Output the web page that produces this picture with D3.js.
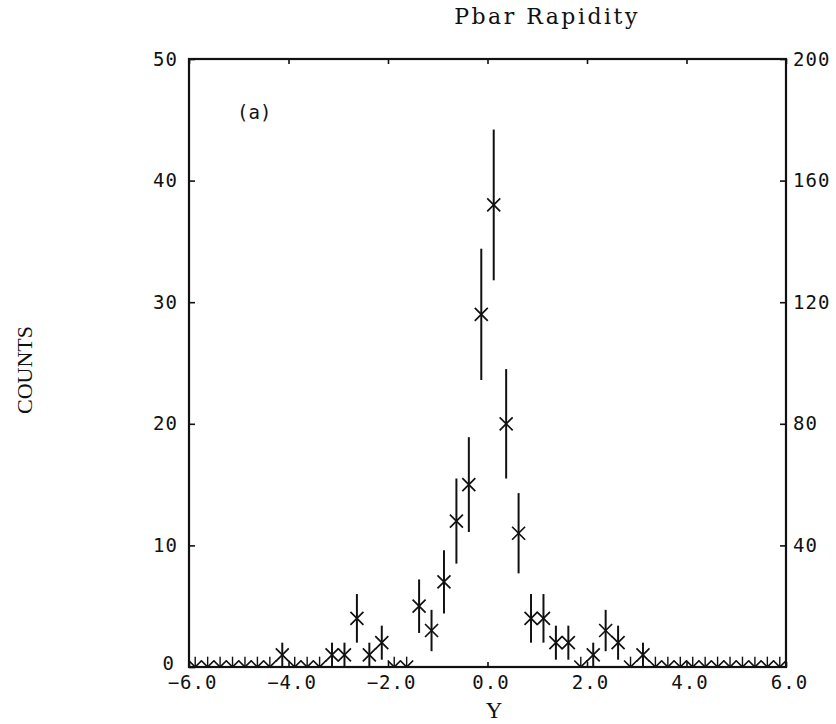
<!DOCTYPE html>
<html>
<head>
<meta charset="utf-8">
<script src="https://cdn.jsdelivr.net/npm/d3@7"></script>
<style>
  body { margin: 0; background: #fff; }
  .tick text { font-family: "DejaVu Sans Mono", monospace; font-size: 19px; letter-spacing: 1px; fill: #111; }
  .tick line { stroke: #111; stroke-width: 1.6px; }
</style>
</head>
<body>
<div id="chart"></div>
<script>
// bin centres of the rapidity histogram (0.25 wide bins)
const binCenters = [
  -5.875, -5.625, -5.375, -5.125, -4.875, -4.625, -4.375, -4.125,
  -3.875, -3.625, -3.375, -3.125, -2.875, -2.625, -2.375, -2.125,
  -1.875, -1.625, -1.375, -1.125, -0.875, -0.625, -0.375, -0.125,
   0.125,  0.375,  0.625,  0.875,  1.125,  1.375,  1.625,  1.875,
   2.125,  2.375,  2.625,  2.875,  3.125,  3.375,  3.625,  3.875,
   4.125,  4.375,  4.625,  4.875,  5.125,  5.375,  5.625,  5.875
]
const counts = [
  0, 0, 0, 0, 0, 0, 0, 1,
  0, 0, 0, 1, 1, 4, 1, 2,
  0, 0, 5, 3, 7, 12, 15, 29,
  38, 20, 11, 4, 4, 2, 2, 0,
  1, 3, 2, 0, 1, 0, 0, 0,
  0, 0, 0, 0, 0, 0, 0, 0
]
// error bar half lengths
const errors = [
  0.85, 0.85, 0.85, 0.85, 0.85, 0.85, 0.85, 1.0,
  0.85, 0.85, 0.85, 1.0, 1.0, 2.0, 1.0, 1.4,
  0.85, 0.85, 2.2, 1.7, 2.6, 3.5, 3.9, 5.4,
  6.2, 4.5, 3.3, 2.0, 2.0, 1.4, 1.4, 0.85,
  1.0, 1.7, 1.4, 0.85, 1.0, 0.85, 0.85, 0.85,
  0.85, 0.85, 0.85, 0.85, 0.85, 0.85, 0.85, 0.85
]
const xTicks = [-6, -4, -2, 0, 2, 4, 6]
const yTicksLeft = [0, 10, 20, 30, 40, 50]
const yTicksRight = [40, 80, 120, 160, 200]

const W = 836, H = 724
const MARGIN = { LEFT: 189, RIGHT: 50, TOP: 59, BOTTOM: 57 }

const svg = d3.select("#chart").append("svg")
  .attr("width", W)
  .attr("height", H)

const x = d3.scaleLinear().domain([-6, 6]).range([MARGIN.LEFT, W - MARGIN.RIGHT])
const y = d3.scaleLinear().domain([0, 50]).range([H - MARGIN.BOTTOM, MARGIN.TOP])
const yRight = d3.scaleLinear().domain([0, 200]).range([H - MARGIN.BOTTOM, MARGIN.TOP])

const data = binCenters.map((c, i) => ({ c: c, n: counts[i], e: errors[i] }))

svg.append("clipPath").attr("id", "plot-clip")
  .append("rect")
  .attr("x", x(-6)).attr("y", y(50))
  .attr("width", x(6) - x(-6)).attr("height", y(0) - y(50))

// axes (ticks point inward)
const fmt = d3.format(".1f")
svg.append("g")
  .attr("transform", `translate(0, ${y(0)})`)
  .call(d3.axisBottom(x).tickValues(xTicks).tickSizeInner(-5).tickSizeOuter(0).tickPadding(9)
    .tickFormat(fmt))
  .call(g => g.select(".domain").remove())
  .call(g => g.selectAll("text").attr("dx", 3))

svg.append("g")
  .attr("transform", `translate(0, ${y(50)})`)
  .call(d3.axisTop(x).tickValues(xTicks).tickSizeInner(-5).tickSizeOuter(0).tickFormat(""))
  .call(g => g.select(".domain").remove())

svg.append("g")
  .attr("transform", `translate(${x(-6)}, 0)`)
  .call(d3.axisLeft(y).tickValues(yTicksLeft).tickSizeInner(-6).tickSizeOuter(0).tickPadding(11))
  .call(g => g.select(".domain").remove())
  .call(g => g.selectAll(".tick").filter(d => d === 0).select("text").attr("dx", -3).attr("dy", "0.12em"))

svg.append("g")
  .attr("transform", `translate(${x(6)}, 0)`)
  .call(d3.axisRight(yRight).tickValues(yTicksRight).tickSizeInner(-6).tickSizeOuter(0).tickPadding(7))
  .call(g => g.select(".domain").remove())

// frame
svg.append("rect")
  .attr("x", x(-6)).attr("y", y(50))
  .attr("width", x(6) - x(-6)).attr("height", y(0) - y(50))
  .attr("fill", "none")
  .attr("stroke", "#111")
  .attr("stroke-width", 2.2)

// points with error bars
const pts = svg.append("g").attr("clip-path", "url(#plot-clip)")
const S = 6.5

pts.selectAll(".err")
  .data(data)
  .join("line")
  .attr("class", "err")
  .attr("x1", d => x(d.c)).attr("x2", d => x(d.c))
  .attr("y1", d => y(d.n + d.e)).attr("y2", d => y(Math.max(0, d.n - d.e)))
  .attr("stroke", "#111")
  .attr("stroke-width", d => d.n === 0 ? 1.4 : 2)

pts.selectAll(".mark")
  .data(data)
  .join("path")
  .attr("class", "mark")
  .attr("d", d => {
    const cx = x(d.c), cy = y(d.n)
    return `M${cx - S},${cy - S}L${cx + S},${cy + S}M${cx - S},${cy + S}L${cx + S},${cy - S}`
  })
  .attr("fill", "none")
  .attr("stroke", "#111")
  .attr("stroke-width", 1.7)

// labels
svg.append("text")
  .attr("x", 547).attr("y", 24)
  .attr("text-anchor", "middle")
  .attr("font-family", "DejaVu Serif, serif")
  .attr("font-size", 22)
  .attr("letter-spacing", 2.5)
  .attr("fill", "#111")
  .text("Pbar Rapidity")

svg.append("text")
  .attr("transform", "rotate(-90)")
  .attr("x", -370).attr("y", 32)
  .attr("text-anchor", "middle")
  .attr("font-family", "Liberation Serif, serif")
  .attr("font-size", 22)
  .attr("fill", "#111")
  .text("COUNTS")

svg.append("text")
  .attr("x", 494).attr("y", 718)
  .attr("text-anchor", "middle")
  .attr("font-family", "Liberation Serif, serif")
  .attr("font-size", 23)
  .attr("fill", "#111")
  .text("Y")

svg.append("text")
  .attr("x", 237).attr("y", 119)
  .attr("font-family", "DejaVu Sans Mono, monospace")
  .attr("font-size", 19)
  .attr("fill", "#111")
  .text("(a)")
</script>
</body>
</html>
